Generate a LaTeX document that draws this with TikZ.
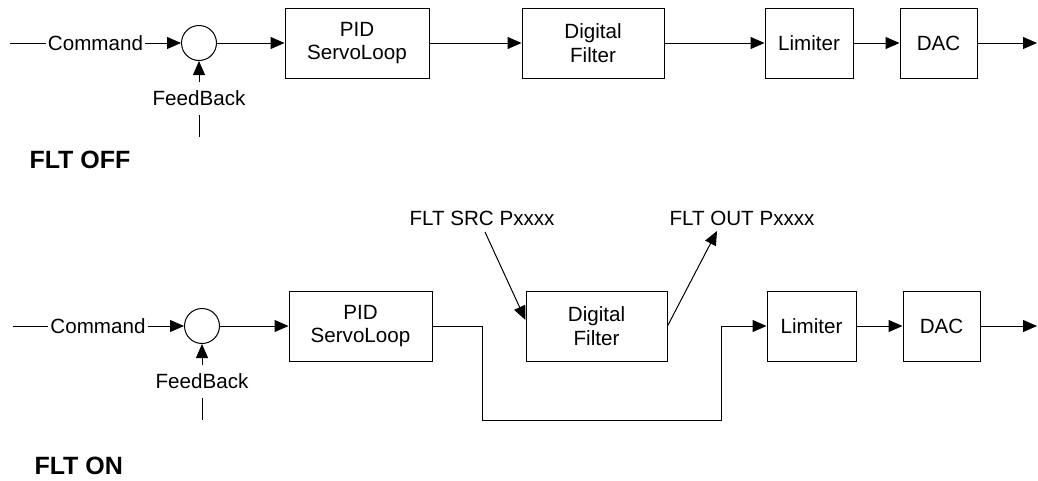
\documentclass[tikz,border=0pt]{standalone}
\usepackage{fontspec}
\setmainfont{Liberation Sans}
\usetikzlibrary{arrows.meta}
\begin{document}
\begin{tikzpicture}[x=1pt,y=-1pt,
  line width=1pt,
  every node/.style={font=\fontsize{20.6}{23.5}\selectfont},
  block/.style={draw, rectangle, minimum height=70pt, inner sep=0pt, align=center},
  junction/.style={draw, circle, minimum size=35pt, inner sep=0pt},
  sigtext/.style={inner xsep=1.5pt, inner ysep=0pt},
  fbtext/.style={inner xsep=0pt, inner ysep=8pt},
  tagtext/.style={inner sep=0pt},
  heading/.style={font=\fontsize{25}{30}\selectfont\bfseries, anchor=west, inner sep=0pt},
  sig/.style={-{Triangle[length=14pt,width=12pt]}}
]
\useasboundingbox (0,0) rectangle (1038,480);

% ---------- filter off: straight signal chain ----------
\coordinate (in1) at (10,43);
\node[sigtext] (cmd1) at (95.5,43) {Command};
\node[junction] (sum1) at (199,43) {};
\node[block, minimum width=144pt] (pid1) at (357,43) {PID\\ServoLoop};
\node[block, minimum width=142pt] (flt1) at (593,43) {Digital\\Filter};
\node[block, minimum width=88pt] (lim1) at (809,43) {Limiter};
\node[block, minimum width=77pt] (dac1) at (938.5,43) {DAC};
\coordinate (out1) at (1037,43);
\node[fbtext] (fb1) at (199,98.5) {FeedBack};
\coordinate (fbin1) at (199,137);
\node[heading] (off) at (29,160) {FLT OFF};

\draw (in1) -- (cmd1);
\draw[sig] (cmd1) -- (sum1);
\draw[sig] (sum1) -- (pid1);
\draw[sig] (pid1) -- (flt1);
\draw[sig] (flt1) -- (lim1);
\draw[sig] (lim1) -- (dac1);
\draw[sig] (dac1) -- (out1);
\draw[sig] (fb1) -- (sum1);
\draw (fbin1) -- (fb1);

% ---------- filter on: filter fed through parameters, loop bypasses it ----------
\coordinate (in2) at (13,326);
\node[sigtext] (cmd2) at (98,326) {Command};
\node[junction] (sum2) at (202,326) {};
\node[block, minimum width=143pt] (pid2) at (360.5,326) {PID\\ServoLoop};
\node[block, minimum width=141pt] (flt2) at (596.5,326) {Digital\\Filter};
\node[block, minimum width=89pt] (lim2) at (811.5,326) {Limiter};
\node[block, minimum width=77pt] (dac2) at (941.5,326) {DAC};
\coordinate (out2) at (1037,326);
\node[fbtext] (fb2) at (202,381.5) {FeedBack};
\coordinate (fbin2) at (202,420);
\node[heading] (on) at (34,466) {FLT ON};

\node[tagtext] (src) at (482,218) {FLT SRC Pxxxx};
\node[tagtext] (dst) at (742,218) {FLT OUT Pxxxx};
\coordinate (srcfoot) at (485,232);
\coordinate (fltin) at ([yshift=6pt]flt2.west);
\coordinate (dsttip) at (717,231);

% bypass route from the servo loop straight to the limiter
\coordinate (b1) at (482,420);
\coordinate (b2) at (721,326);

\draw (in2) -- (cmd2);
\draw[sig] (cmd2) -- (sum2);
\draw[sig] (sum2) -- (pid2);
\draw[sig] (pid2) -| (b1) -| (b2) -- (lim2);
\draw[sig] (lim2) -- (dac2);
\draw[sig] (dac2) -- (out2);
\draw[sig] (fb2) -- (sum2);
\draw (fbin2) -- (fb2);
\draw[sig] (srcfoot) -- (fltin);
\draw[sig] (flt2.east) -- (dsttip);
\end{tikzpicture}
\end{document}
